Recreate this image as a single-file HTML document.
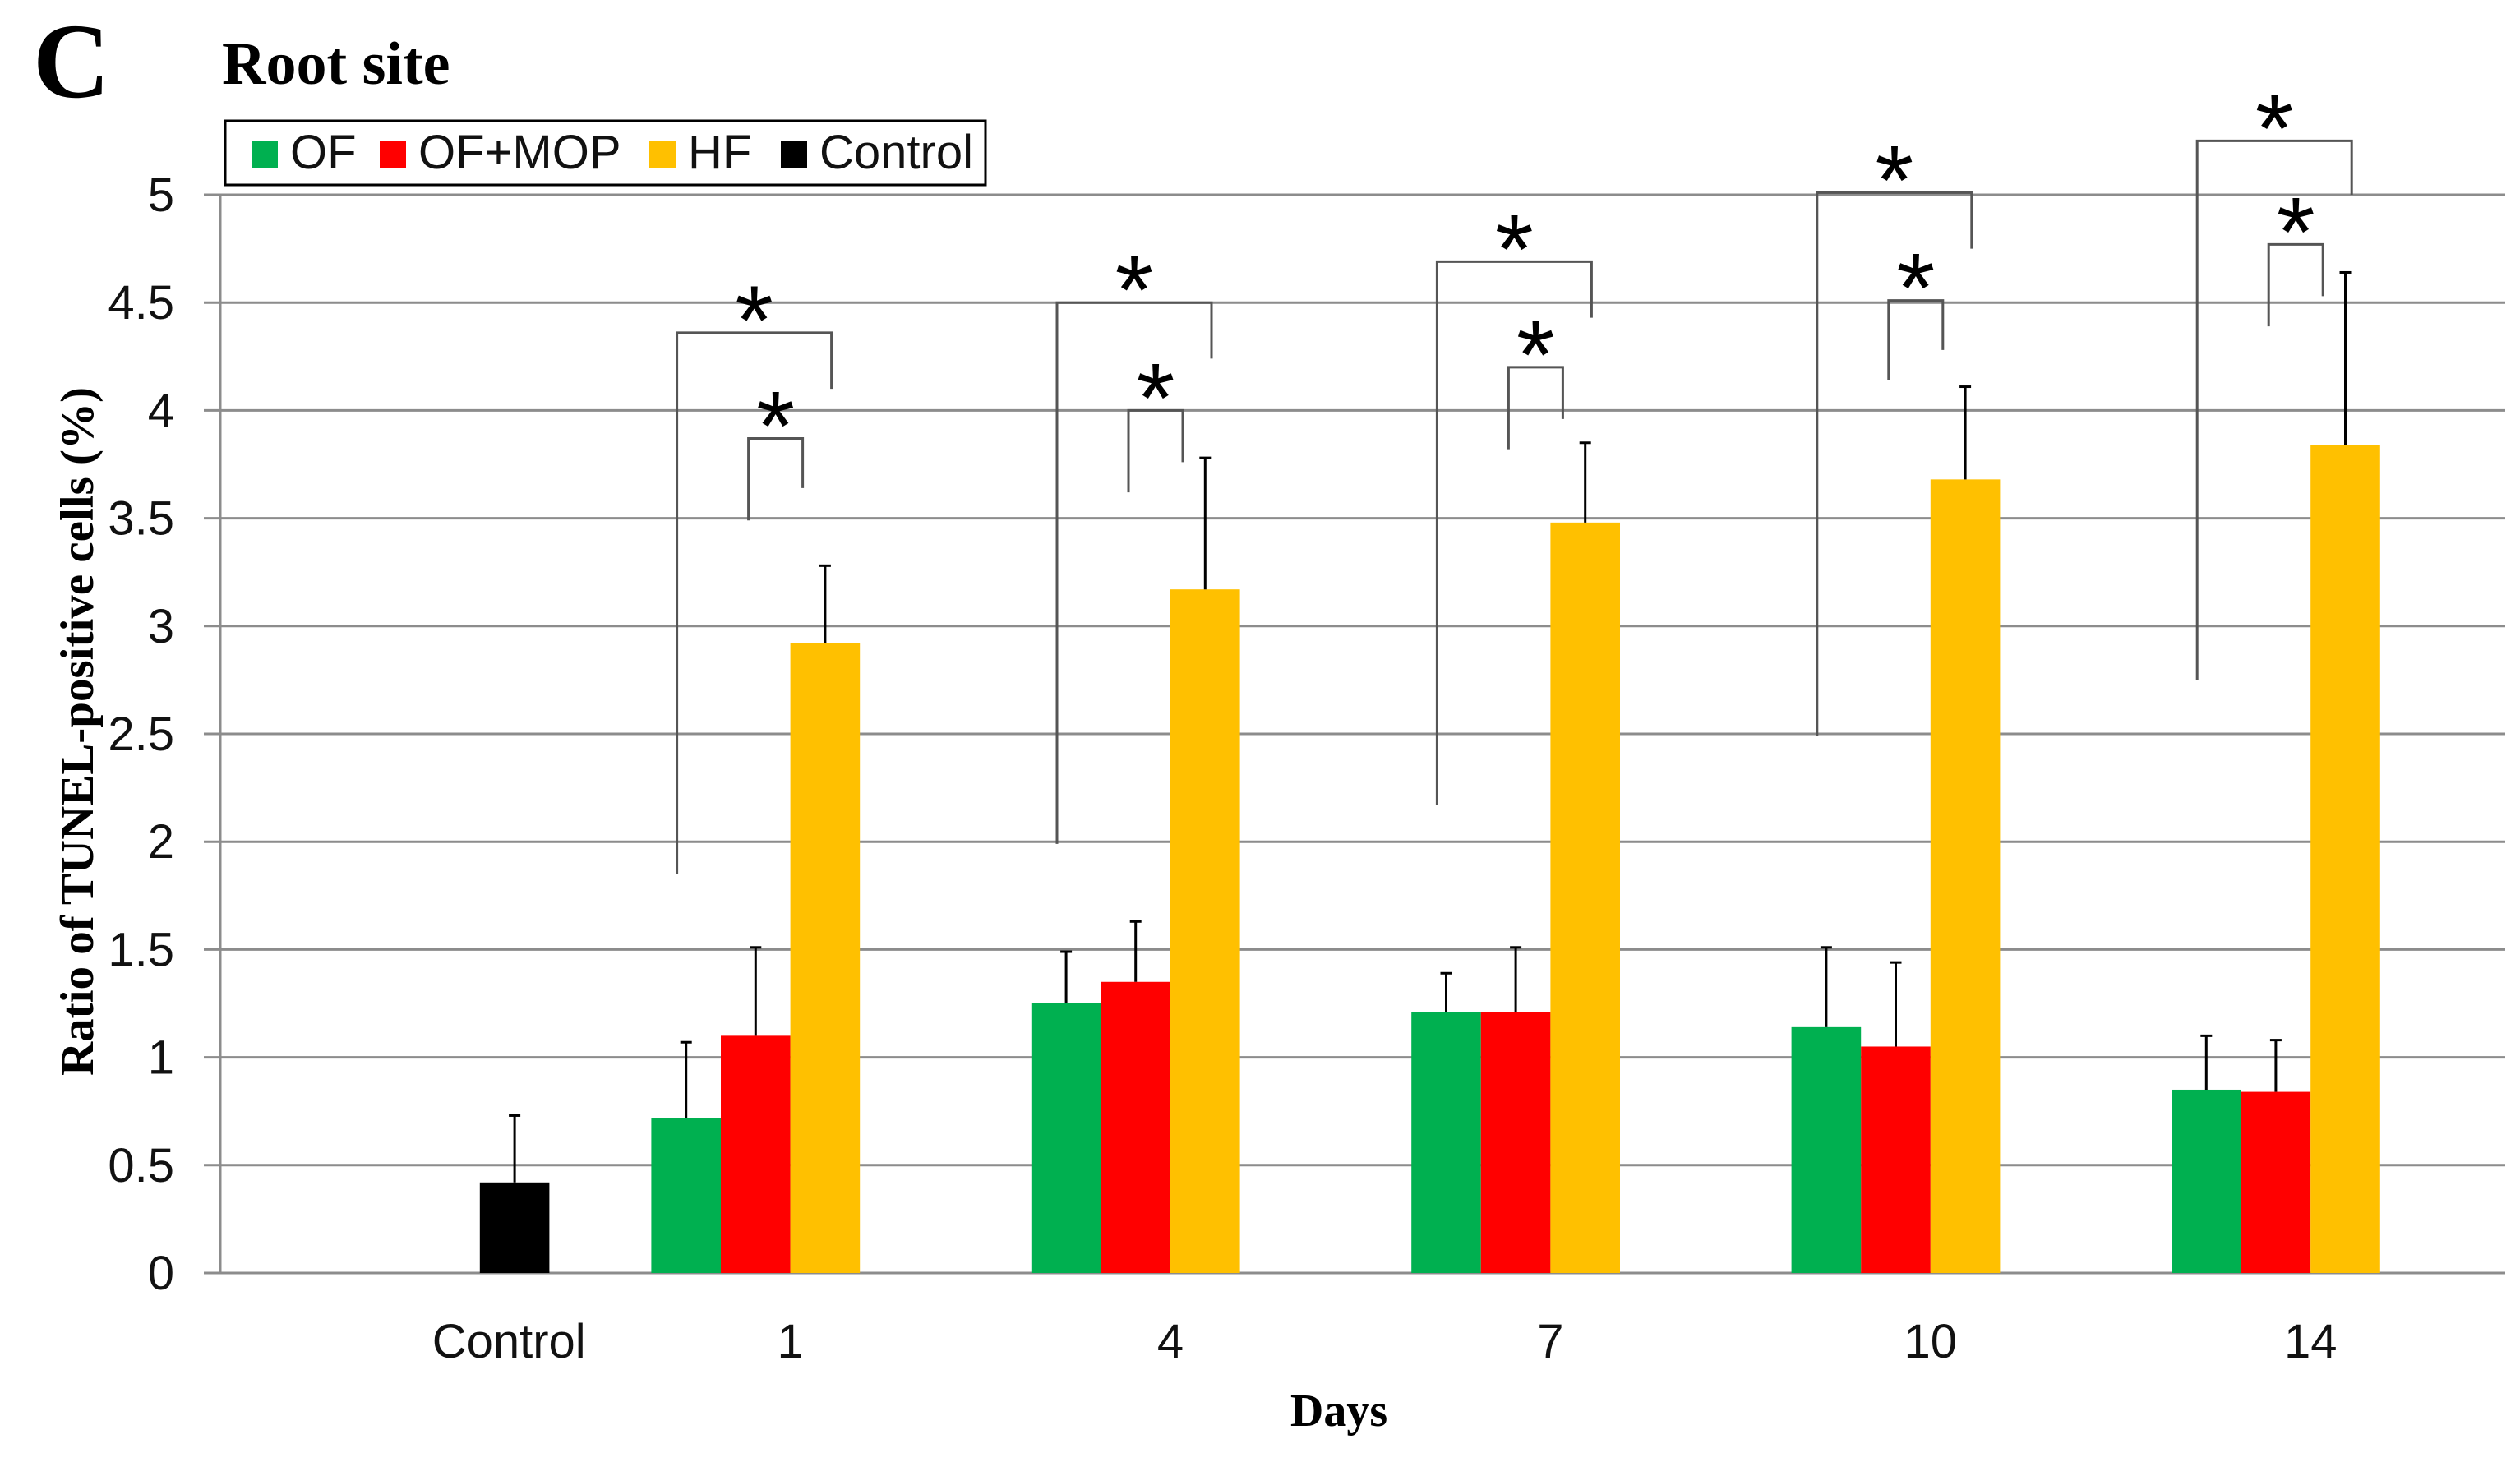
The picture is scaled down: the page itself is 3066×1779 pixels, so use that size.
<!DOCTYPE html>
<html><head><meta charset="utf-8">
<style>
html,body{margin:0;padding:0;background:#fff;}
svg{display:block;}
.tk{font-family:"Liberation Sans Narrow","Liberation Sans",sans-serif;font-size:58px;fill:#111;}
.sf{font-family:"Liberation Serif",serif;font-weight:bold;fill:#000;}
</style></head>
<body>
<svg id="chart" width="3066" height="1779" viewBox="0 0 3066 1779" xmlns="http://www.w3.org/2000/svg">
<text class="sf" x="40" y="118" font-size="130">C</text>
<text class="sf" x="270" y="102" font-size="74">Root site</text>
<g id="grid"></g>
<g id="yticks"></g>
<g id="bars"></g>
<g id="errs"></g>
<g id="sig"></g>
<g id="xticks"></g>
<text class="sf" transform="translate(113,890) rotate(-90)" text-anchor="middle" font-size="57">Ratio of TUNEL-positive cells (%)</text>
<text class="sf" x="1629" y="1735" text-anchor="middle" font-size="56">Days</text>
<g>
<rect x="274" y="147" width="925" height="78" fill="#fff" stroke="#000" stroke-width="3"/>
<g id="legend"></g>
</g>
</svg>
<script>
const categories=["Control","1","4","7","10","14"];
const ofVals=[null,0.72,1.25,1.21,1.14,0.85];
const ofErr=[null,1.07,1.49,1.39,1.51,1.10];
const mopVals=[null,1.10,1.35,1.21,1.05,0.84];
const mopErr=[null,1.51,1.63,1.51,1.44,1.08];
const hfVals=[null,2.92,3.17,3.48,3.68,3.84];
const hfErr=[null,3.28,3.78,3.85,4.11,4.64];
const ctrlVals=[0.42,null,null,null,null,null];
const ctrlErr=[0.73,null,null,null,null,null];
const yTicks=[0,0.5,1,1.5,2,2.5,3,3.5,4,4.5,5];
const yTickLabels=["0","0.5","1","1.5","2","2.5","3","3.5","4","4.5","5"];
const sigOuterTop=[null,4.36,4.50,4.69,5.01,5.25];
const sigOuterLeftEnd=[null,1.85,1.99,2.17,2.49,2.75];
const sigOuterRightEnd=[null,4.10,4.24,4.43,4.75,5.00];
const sigInnerTop=[null,3.87,4.00,4.20,4.51,4.77];
const sigInnerLeftEnd=[null,3.49,3.62,3.82,4.14,4.39];
const sigInnerRightEnd=[null,3.64,3.76,3.96,4.28,4.53];
const seriesNames=["OF","OF+MOP","HF","Control"];
const seriesColors=["#00b050","#ff0000","#ffc000","#000000"];

const NS="http://www.w3.org/2000/svg";
const X0=268,X1=3048,Y0=1549,YTOP=237,YMAX=5;
const catW=462.4;
const slot=84.6;
function y(v){return Y0-(v/YMAX)*(Y0-YTOP);}
function xc(i){return X0+catW*(i+0.5);}
function mk(tag,attrs,parent){const e=document.createElementNS(NS,tag);for(const k in attrs)e.setAttribute(k,attrs[k]);parent.appendChild(e);return e;}
const grid=document.getElementById('grid'),yt=document.getElementById('yticks'),bars=document.getElementById('bars'),errs=document.getElementById('errs'),sig=document.getElementById('sig'),xt=document.getElementById('xticks'),leg=document.getElementById('legend');

yTicks.forEach((t,i)=>{
  const l=mk('line',{x1:248,x2:X1,y1:y(t),y2:y(t),stroke:'#8c8c8c','stroke-width':3},grid);
  
  
  const tx=mk('text',{x:212,y:y(t)+20,'text-anchor':'end',class:'tk'},yt);
  tx.textContent=yTickLabels[i];
  
  
});
const ax=mk('line',{x1:X0,x2:X0,y1:YTOP,y2:Y0,stroke:'#8c8c8c','stroke-width':3},grid);



function star(x,top){
  const a=mk('text',{x:x,y:top+38,'text-anchor':'middle','font-size':120,'font-family':'Liberation Sans, sans-serif',fill:'#000'},sig);
  a.textContent='*';
  
  
}

const series=[[ofVals,ofErr],[mopVals,mopErr],[hfVals,hfErr],[ctrlVals,ctrlErr]];
categories.forEach((c,i)=>{
  const C=xc(i);
  series.forEach((s,j)=>{
    const v=s[0][i];if(v==null)return;
    const x=C+(j-2)*slot;
    const r=mk('rect',{x:x,y:y(v),width:slot,height:Y0-y(v),fill:seriesColors[j]},bars);
    
    
    const e=s[1][i];const cx=x+slot/2;
    const g=mk('g',{stroke:'#000','stroke-width':3},errs);
    
    
    mk('line',{x1:cx,x2:cx,y1:y(v),y2:y(e)},g);
    mk('line',{x1:cx-7,x2:cx+7,y1:y(e),y2:y(e)},g);
  });
  const lbl=mk('text',{x:i===0?C+120:C,y:1652,'text-anchor':'middle',class:'tk'},xt);
  lbl.textContent=c;
  
  
  if(sigOuterTop[i]!=null){
    const g=mk('g',{fill:'none',stroke:'#555','stroke-width':3},sig);
    
    
    const oL=C-138,oR=C+50,iL=C-51,iR=C+15;
    mk('polyline',{points:`${oL},${y(sigOuterLeftEnd[i])} ${oL},${y(sigOuterTop[i])} ${oR},${y(sigOuterTop[i])} ${oR},${y(sigOuterRightEnd[i])}`},g);
    mk('polyline',{points:`${iL},${y(sigInnerLeftEnd[i])} ${iL},${y(sigInnerTop[i])} ${iR},${y(sigInnerTop[i])} ${iR},${y(sigInnerRightEnd[i])}`},g);
    star((oL+oR)/2,y(sigOuterTop[i])-12);
    star((iL+iR)/2,y(sigInnerTop[i])-12);
  }
});

const legX=[306,462,790,950];
seriesNames.forEach((n,j)=>{
  const r=mk('rect',{x:legX[j],y:172,width:32,height:32,fill:seriesColors[j]},leg);
  
  
  const t=mk('text',{x:legX[j]+47,y:205,class:'tk'},leg);
  t.textContent=n;
  
  
});
</script>
</body></html>
